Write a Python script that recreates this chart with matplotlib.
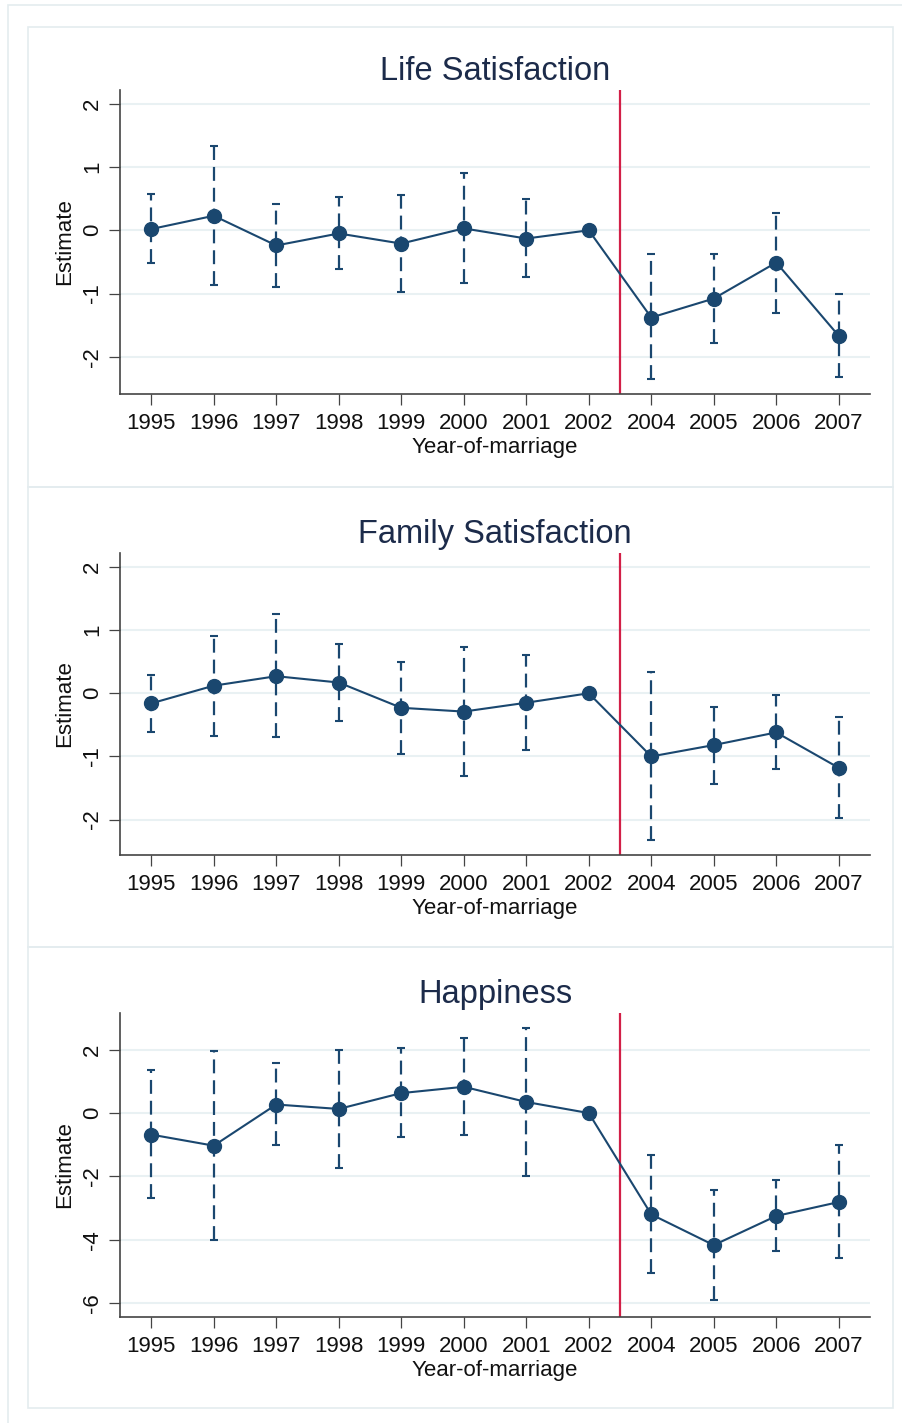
import matplotlib.pyplot as plt
import numpy as np
from matplotlib.patches import Rectangle

plt.rcParams["font.family"] = ["Liberation Sans", "DejaVu Sans"]
plt.rcParams["lines.scale_dashes"] = False

years = ["1995", "1996", "1997", "1998", "1999", "2000", "2001", "2002",
         "2004", "2005", "2006", "2007"]

# point estimates and 95% CI bounds (2002 is the reference year)
life_est = [0.02, 0.23, -0.24, -0.05, -0.21, 0.03, -0.13, 0.0, -1.38, -1.08, -0.51, -1.67]
life_lo = [-0.52, -0.87, -0.90, -0.61, -0.97, -0.84, -0.74, np.nan, -2.35, -1.79, -1.31, -2.32]
life_hi = [0.57, 1.34, 0.42, 0.52, 0.56, 0.90, 0.50, np.nan, -0.38, -0.37, 0.27, -1.01]

family_est = [-0.16, 0.12, 0.27, 0.17, -0.23, -0.29, -0.15, 0.0, -1.00, -0.82, -0.62, -1.18]
family_lo = [-0.61, -0.67, -0.70, -0.44, -0.96, -1.31, -0.90, np.nan, -2.33, -1.44, -1.20, -1.98]
family_hi = [0.29, 0.91, 1.25, 0.78, 0.50, 0.73, 0.60, np.nan, 0.34, -0.21, -0.03, -0.37]

happy_est = [-0.68, -1.03, 0.27, 0.13, 0.63, 0.83, 0.35, 0.0, -3.20, -4.17, -3.25, -2.81]
happy_lo = [-2.69, -4.02, -1.01, -1.75, -0.76, -0.70, -2.00, np.nan, -5.06, -5.91, -4.36, -4.58]
happy_hi = [1.36, 1.96, 1.59, 2.00, 2.05, 2.36, 2.69, np.nan, -1.33, -2.44, -2.12, -1.02]

navy = "#1a476f"
red = "#d21f47"
grid_c = "#e9f1f3"
frame_c = "#e4ecef"

W, H = 902, 1423
fig = plt.figure(figsize=(W / 100, H / 100), dpi=100)
fig.patch.set_facecolor("white")

# light frames around the whole graph and each panel
fig.add_artist(Rectangle((8 / W, -0.1), 1.2, 1 - 5 / H + 0.1, transform=fig.transFigure,
                         fill=False, ec=frame_c, lw=1.2))
for top, bot in [(27, 487), (487, 947), (947, 1408)]:
    fig.add_artist(Rectangle((28 / W, 1 - bot / H), (893 - 28) / W, (bot - top) / H,
                             transform=fig.transFigure, fill=False, ec=frame_c, lw=1.2))


def draw_panel(rect, title, est, lo, hi, yticks, ylim):
    ax = fig.add_axes(rect)
    x = np.arange(len(years))
    est = np.asarray(est)
    lo = np.asarray(lo)
    hi = np.asarray(hi)
    ok = ~np.isnan(lo)

    ax.axvline(7.5, color=red, lw=1.6, zorder=2)
    eb = ax.errorbar(x[ok], est[ok], yerr=[est[ok] - lo[ok], hi[ok] - est[ok]], fmt="none",
                     ecolor=navy, elinewidth=1.6, capsize=3.0, capthick=1.5, zorder=3)
    eb[2][0].set_linestyle((0, (10, 5)))
    ax.plot(x, est, "-o", color=navy, lw=1.5, ms=10, zorder=4)

    ax.set_xlim(-0.5, 11.5)
    ax.set_ylim(*ylim)
    ax.set_xticks(x, years)
    ax.set_yticks(yticks)
    ax.set_yticklabels([f"{t:g}" for t in yticks], rotation=90, va="center")
    ax.yaxis.grid(True, color=grid_c, lw=1.5)
    ax.set_axisbelow(True)
    for side in ["top", "right"]:
        ax.spines[side].set_visible(False)
    for side in ["left", "bottom"]:
        ax.spines[side].set_color("#444444")
        ax.spines[side].set_linewidth(1.2)
    ax.tick_params(length=8, width=0.9, color="#444444", labelsize=16, labelcolor="#111111")
    ax.tick_params(axis="x", pad=6)
    ax.tick_params(axis="y", pad=4)
    ax.set_title(title, fontsize=23.5, color="#1c2b4a", pad=7)
    ax.set_xlabel("Year-of-marriage", fontsize=16, color="#111111", labelpad=1.5)
    ax.set_ylabel("Estimate", fontsize=16, color="#111111", labelpad=5)
    return ax


left = 120 / W
width = 750 / W
draw_panel([left, 1 - 394 / H, width, 304 / H], "Life Satisfaction",
           life_est, life_lo, life_hi, [-2, -1, 0, 1, 2], (-2.59, 2.22))
draw_panel([left, 1 - 855 / H, width, 302 / H], "Family Satisfaction",
           family_est, family_lo, family_hi, [-2, -1, 0, 1, 2], (-2.56, 2.22))
draw_panel([left, 1 - 1317 / H, width, 304 / H], "Happiness",
           happy_est, happy_lo, happy_hi, [-6, -4, -2, 0, 2], (-6.44, 3.16))

fig.savefig("out.png", dpi=100)
